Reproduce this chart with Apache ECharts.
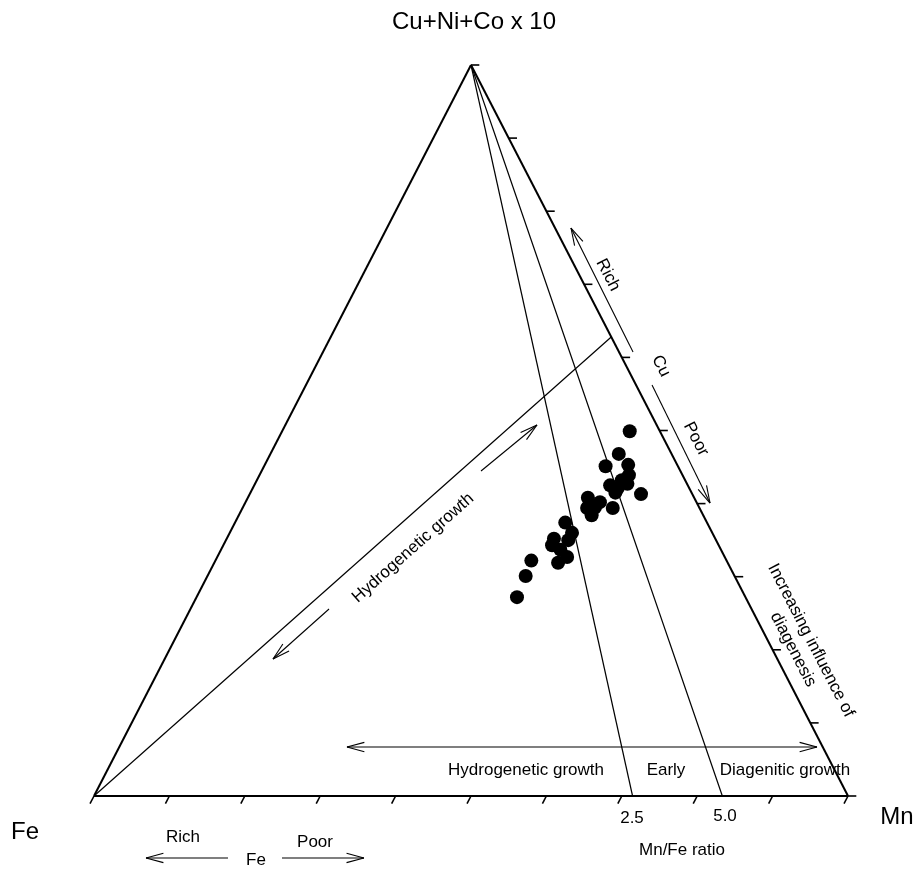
<!DOCTYPE html>
<html><head><meta charset="utf-8">
<script src="https://cdn.jsdelivr.net/npm/echarts@6/dist/echarts.min.js"></script>
<style>html,body{margin:0;padding:0;background:#fff}#c{width:918px;height:875px}</style>
</head><body><div id="c"></div>
<script>
// ---- data (percent, ternary: Cu+Ni+Co x10 / Mn / Fe) ----
const cuNiCo10 = [49.9,46.8,45.1,45.3,43.9,42.7,42.5,42.1,41.5,41.3,39.4,40.8,40.2,39.4,38.4,39.5,37.4,36.0,35.0,35.2,34.3,33.7,32.7,31.9,32.2,30.1,27.2,43.2];
const mnPct    = [46.1,46.2,45.3,48.2,49.0,49.4,47.2,48.4,48.4,51.9,49.1,45.1,47.0,45.7,46.8,46.7,43.8,45.4,45.4,43.4,43.6,45.0,46.4,45.6,41.9,42.2,42.5,48.4];
const fePct    = [4.0,7.0,9.6,6.5,7.1,7.9,10.3,9.5,10.1,6.8,11.5,14.1,12.8,14.9,14.8,13.8,18.8,18.6,19.6,21.4,22.1,21.3,20.9,22.5,25.9,27.7,30.3,8.4];
const mnFeRatios = [2.5, 5.0];
const ratioLabels = ['2.5', '5.0'];
const hydroLineEnd = [62.8, 37.2, 0]; // apex, Mn, Fe at right edge
const tickValues = [0,10,20,30,40,50,60,70,80,90,100];

// ternary -> cartesian (x = Mn + apex/2, y = apex)
function tern(a, m, f) { const s = a + m + f; a /= s; m /= s; return [m + a / 2, a]; }

const FE = tern(0,0,100), MN = tern(0,100,0), AP = tern(100,0,0);
const edges = [[...FE, ...MN, 0], [...MN, ...AP, 0], [...AP, ...FE, 0]];
const inner = [];
mnFeRatios.forEach(r => { const b = tern(0, r, 1); inner.push([...AP, ...b, 0]); });
inner.push([...FE, ...tern(...hydroLineEnd), 0]);
const ticks = [];
const tl = 0.0105;
tickValues.forEach(v => {
  const b = tern(0, v, 100 - v);            // bottom axis: parallel to left edge
  ticks.push([b[0], b[1], b[0] - tl / 2, b[1] - tl, 0]);
  const r = tern(v, 100 - v, 0);            // right axis: horizontal
  ticks.push([r[0], r[1], r[0] + tl * 1.05, r[1], 0]);
});
// annotation arrows in plot coordinates: x1,y1,x2,y2,heads(1=end,2=both)
const arrows = [
  [0.3355, 0.0670, 0.9589, 0.0670, 2],
  [0.5133, 0.4446, 0.5875, 0.5075, 1],
  [0.3117, 0.2558, 0.2374, 0.1874, 1],
  [0.7149, 0.6074, 0.6326, 0.7770, 1],
  [0.7401, 0.5622, 0.8170, 0.4008, 1],
  [0.1777, -0.0848, 0.0690, -0.0848, 1],
  [0.2493, -0.0848, 0.3580, -0.0848, 1]
];
const points = cuNiCo10.map((a, i) => tern(a, mnPct[i], fePct[i]));

function segRender(width) {
  return function (params, api) {
    const p1 = api.coord([api.value(0), api.value(1)]);
    const p2 = api.coord([api.value(2), api.value(3)]);
    const heads = api.value(4);
    const st = { stroke: '#000', lineWidth: width, fill: null };
    const ch = [{ type: 'line', shape: { x1: p1[0], y1: p1[1], x2: p2[0], y2: p2[1] }, style: st }];
    function head(tip, from) {
      const ang = Math.atan2(from[1] - tip[1], from[0] - tip[0]);
      const L = 18, d = 15 * Math.PI / 180;
      [ang - d, ang + d].forEach(t => ch.push({ type: 'line',
        shape: { x1: tip[0], y1: tip[1], x2: tip[0] + L * Math.cos(t), y2: tip[1] + L * Math.sin(t) }, style: st }));
    }
    if (heads >= 1) head(p2, p1);
    if (heads >= 2) head(p1, p2);
    return { type: 'group', children: ch };
  };
}
function segSeries(data, width) {
  return { type: 'custom', data: data, renderItem: segRender(width), clip: false, silent: true,
    dimensions: ['x1','y1','x2','y2','h'], encode: { x: [0, 2], y: [1, 3] }, z: 2 };
}

const FONT = '"Liberation Sans", Arial, sans-serif';
function txt(t, x, y, size, rotDeg) {
  return { type: 'text', x: x, y: y, rotation: (rotDeg || 0) * Math.PI / 180,
    style: { text: t, font: size + 'px ' + FONT, fill: '#000', align: 'center', verticalAlign: 'middle', lineHeight: size + 3 } };
}
const edgeRot = -Math.atan2(796 - 65, 848 - 472) * 180 / Math.PI;
const graphics = [
  txt('Cu+Ni+Co x 10', 474, 22, 24),
  txt('Fe', 25, 832, 24),
  txt('Mn', 897, 817, 24),
  txt('Rich', 183, 837, 17), txt('Fe', 256, 860, 17), txt('Poor', 315, 842, 17),
  txt('Hydrogenetic growth', 526, 770, 17), txt('Early', 666, 770, 17), txt('Diagenitic growth', 785, 770, 17),
  txt(ratioLabels[0], 632, 818, 17), txt(ratioLabels[1], 725, 816, 17), txt('Mn/Fe ratio', 682, 850, 17),
  txt('Hydrogenetic growth', 413, 548, 17, 41.5),
  txt('Rich', 608, 275, 17, edgeRot), txt('Cu', 661, 366, 17, edgeRot), txt('Poor', 696, 439, 17, edgeRot),
  txt('Increasing influence of\ndiagenesis', 802, 645, 17, edgeRot)
];

const chart = echarts.init(document.getElementById('c'));
chart.setOption({
  animation: false,
  backgroundColor: '#fff',
  grid: { left: 94, right: 70, top: 65, bottom: 79 },
  xAxis: { type: 'value', min: 0, max: 1, show: false },
  yAxis: { type: 'value', min: 0, max: 1, show: false },
  graphic: graphics,
  series: [
    segSeries(edges, 2),
    segSeries(inner, 1.2),
    segSeries(ticks, 1.6),
    segSeries(arrows, 1.1),
    { type: 'scatter', data: points, symbol: 'circle', symbolSize: 14,
      itemStyle: { color: '#000', opacity: 1 }, z: 5, silent: true }
  ]
});
</script></body></html>
